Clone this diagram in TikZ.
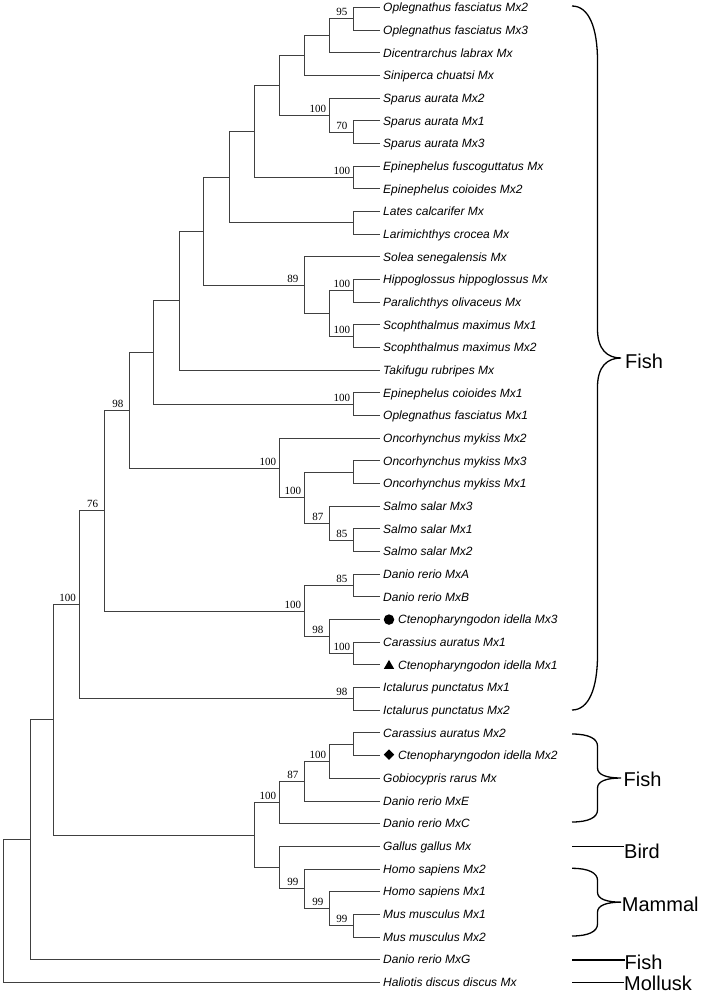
\documentclass[tikz,border=0pt]{standalone}
\usepackage{fontspec}
\setmainfont{Liberation Serif}
\newfontfamily\taxfont{Liberation Sans}
\usetikzlibrary{shapes.geometric}
\tikzset{
  branch/.style={line width=0.9pt,black!75},
  taxon/.style={anchor=west,inner sep=0pt,text height=8.6pt,text depth=0pt,font=\taxfont\itshape\fontsize{12}{14}\selectfont},
  boot/.style={anchor=base,inner sep=0pt,font=\fontsize{11}{13}\selectfont},
  brc/.style={line width=1.3pt},
  grp/.style={anchor=west,inner sep=0pt,text height=14.3pt,text depth=0pt,font=\taxfont\fontsize{20}{24}\selectfont},
  dotmk/.style={circle,fill,inner sep=0pt,minimum size=10.5pt},
  trimk/.style={regular polygon,regular polygon sides=3,fill,inner sep=0pt,minimum size=12pt},
  dimk/.style={diamond,fill,inner sep=0pt,minimum size=10.5pt}
}
% y of leaf row
\newcommand\rowy[1]{7.5+22.67*(#1-1)}
% right brace: top, bottom, end radius, tip radius
\newcommand\grpbrace[4]{%
  \draw[brc] (572,#1) .. controls (589,#1) and (597.5,{#1+0.4*#3}) .. (597.5,{#1+#3})
    -- (597.5,{(#1+#2)/2-#4}) .. controls (597.5,{(#1+#2)/2-0.3*#4}) and (607,{(#1+#2)/2}) .. (621,{(#1+#2)/2})
    .. controls (607,{(#1+#2)/2}) and (597.5,{(#1+#2)/2+0.3*#4}) .. (597.5,{(#1+#2)/2+#4})
    -- (597.5,{#2-#3}) .. controls (597.5,{#2-0.4*#3}) and (589,#2) .. (572,#2);}

\begin{document}
\begin{tikzpicture}[x=1pt,y=-1pt]
  \useasboundingbox (0,0) rectangle (704,995);

  % Leaf tips and taxon names
  \foreach \i in {1,...,44}
    \coordinate (t\i) at (380,{\rowy{\i}});
  \foreach \i/\t in {1/Oplegnathus fasciatus Mx2, 2/Oplegnathus fasciatus Mx3,
      3/Dicentrarchus labrax Mx, 4/Siniperca chuatsi Mx, 5/Sparus aurata Mx2,
      6/Sparus aurata Mx1, 7/Sparus aurata Mx3, 8/Epinephelus fuscoguttatus Mx,
      9/Epinephelus coioides Mx2, 10/Lates calcarifer Mx, 11/Larimichthys crocea Mx,
      12/Solea senegalensis Mx, 13/Hippoglossus hippoglossus Mx, 14/Paralichthys olivaceus Mx,
      15/Scophthalmus maximus Mx1, 16/Scophthalmus maximus Mx2, 17/Takifugu rubripes Mx,
      18/Epinephelus coioides Mx1, 19/Oplegnathus fasciatus Mx1, 20/Oncorhynchus mykiss Mx2,
      21/Oncorhynchus mykiss Mx3, 22/Oncorhynchus mykiss Mx1, 23/Salmo salar Mx3,
      24/Salmo salar Mx1, 25/Salmo salar Mx2, 26/Danio rerio MxA, 27/Danio rerio MxB,
      29/Carassius auratus Mx1, 31/Ictalurus punctatus Mx1, 32/Ictalurus punctatus Mx2,
      33/Carassius auratus Mx2, 35/Gobiocypris rarus Mx, 36/Danio rerio MxE,
      37/Danio rerio MxC, 38/Gallus gallus Mx, 39/Homo sapiens Mx2, 40/Homo sapiens Mx1,
      41/Mus musculus Mx1, 42/Mus musculus Mx2, 43/Danio rerio MxG,
      44/Haliotis discus discus Mx}
    \node[taxon] (l\i) at (383,{\rowy{\i}}) {\t};

  % Grass carp genes with their marks
  \node[dotmk] (m28) at (389,{\rowy{28}}) {};
  \node[trimk] (m30) at (389,{\rowy{30}+1}) {};
  \node[dimk]  (m34) at (389,{\rowy{34}-1}) {};
  \node[taxon] (l28) at (398,{\rowy{28}}) {Ctenopharyngodon idella Mx3};
  \node[taxon] (l30) at (398,{\rowy{30}}) {Ctenopharyngodon idella Mx1};
  \node[taxon] (l34) at (398,{\rowy{34}}) {Ctenopharyngodon idella Mx2};

  % Internal nodes, teleost Mx
  \coordinate (nOpl)   at (353.3,18.8);
  \coordinate (nDic)   at (329.3,35.8);
  \coordinate (nSin)   at (304.3,55.6);
  \coordinate (nSp13)  at (353.3,132.2);
  \coordinate (nSpa)   at (329.3,115.2);
  \coordinate (nPer)   at (279.3,85.4);
  \coordinate (nEpi)   at (353.3,177.5);
  \coordinate (nSpE)   at (254,131.5);
  \coordinate (nLat)   at (353.3,222.9);
  \coordinate (nLL)    at (229.3,177.2);
  \coordinate (nHip)   at (353.3,290.9);
  \coordinate (nSco)   at (353.3,336.2);
  \coordinate (nFlat)  at (329.3,313.5);
  \coordinate (nSol)   at (304.3,285.2);
  \coordinate (nPerc)  at (203.3,231.2);
  \coordinate (nTak)   at (179.3,300.7);
  \coordinate (nEc1)   at (353.3,404.2);
  \coordinate (nAca)   at (153.7,352.5);
  \coordinate (nOnc31) at (353.3,472.2);
  \coordinate (nSal12) at (353.3,540.2);
  \coordinate (nSal)   at (329.3,523.2);
  \coordinate (nOS)    at (304.3,497.7);
  \coordinate (nSalm)  at (279.3,468.0);
  \coordinate (nEut)   at (129.3,410.2);
  \coordinate (nDAB)   at (353.3,585.6);
  \coordinate (nCC)    at (353.3,653.6);
  \coordinate (nCte)   at (329.3,636.6);
  \coordinate (nCyp)   at (304.3,611.1);
  \coordinate (nTel)   at (104,510.7);
  \coordinate (nIct)   at (353.3,698.9);
  \coordinate (nFish)  at (79,604.8);
  % Internal nodes, cyprinid and tetrapod Mx
  \coordinate (nCa2)   at (353.3,744.3);
  \coordinate (nGob)   at (329.3,761.3);
  \coordinate (nDE)    at (304.3,781.1);
  \coordinate (nDC)    at (279.3,802.4);
  \coordinate (nMus)   at (353.3,925.6);
  \coordinate (nHs1)   at (329.3,908.6);
  \coordinate (nHs2)   at (304.3,888.8);
  \coordinate (nGal)   at (279.3,867.5);
  \coordinate (nMx2)   at (254,835.0);
  \coordinate (nVert)  at (53.7,719.9);
  \coordinate (nG)     at (30,839.8);
  \coordinate (nRoot)  at (3.3,911.0);

  % Branches
  \foreach \p/\c in {nOpl/t1,nOpl/t2,nDic/nOpl,nDic/t3,nSin/nDic,nSin/t4,
      nSp13/t6,nSp13/t7,nSpa/t5,nSpa/nSp13,nPer/nSin,nPer/nSpa,nEpi/t8,nEpi/t9,
      nSpE/nPer,nSpE/nEpi,nLat/t10,nLat/t11,nLL/nSpE,nLL/nLat,nHip/t13,nHip/t14,
      nSco/t15,nSco/t16,nFlat/nHip,nFlat/nSco,nSol/t12,nSol/nFlat,nPerc/nLL,nPerc/nSol,
      nTak/nPerc,nTak/t17,nEc1/t18,nEc1/t19,nAca/nTak,nAca/nEc1,nOnc31/t21,nOnc31/t22,
      nSal12/t24,nSal12/t25,nSal/t23,nSal/nSal12,nOS/nOnc31,nOS/nSal,nSalm/t20,nSalm/nOS,
      nEut/nAca,nEut/nSalm,nDAB/t26,nDAB/t27,nCC/t29,nCC/t30,nCte/t28,nCte/nCC,
      nCyp/nDAB,nCyp/nCte,nTel/nEut,nTel/nCyp,nIct/t31,nIct/t32,nFish/nTel,nFish/nIct,
      nCa2/t33,nCa2/t34,nGob/nCa2,nGob/t35,nDE/nGob,nDE/t36,nDC/nDE,nDC/t37,
      nMus/t41,nMus/t42,nHs1/t40,nHs1/nMus,nHs2/t39,nHs2/nHs1,nGal/t38,nGal/nHs2,
      nMx2/nDC,nMx2/nGal,nVert/nFish,nVert/nMx2,nG/nVert,nG/t43,nRoot/nG,nRoot/t44}
    \draw[branch] (\p) |- (\c);

  % Bootstrap values
  \foreach \n/\v in {nOpl/95,nSp13/70,nSpa/100,nEpi/100,nHip/100,nSco/100,nSol/89,
      nEc1/100,nSal12/85,nSal/87,nOS/100,nSalm/100,nEut/98,nDAB/85,nCC/100,nCte/98,
      nCyp/100,nTel/76,nIct/98,nFish/100,nGob/100,nDE/87,nDC/100,nMus/99,nHs1/99,nHs2/99}
    \node[boot] (b\n) at ([xshift=-11.5pt,yshift=3pt]\n) {\v};

  % Groups
  \grpbrace{6}{710}{55}{29}
  \grpbrace{734}{822}{12}{10}
  \grpbrace{868.3}{936}{12}{10}
  \node[grp] (gFishA) at (625,361) {Fish};
  \node[grp] (gFishB) at (623.5,779.5) {Fish};
  \node[grp] (gBird) at (624,851.7) {Bird};
  \node[grp] (gMam) at (621.7,904) {Mammal};
  \node[grp] (gFishC) at (624.5,962.5) {Fish};
  \node[grp] (gMoll) at (624,983.3) {Mollusk};
  \draw[brc] (572,846.7) -- (gBird.west |- 0,846.7);
  \draw[brc] (572,960) -- (gFishC.west |- 0,960);
  \draw[brc] (572,982.3) -- (gMoll.west |- 0,982.3);
\end{tikzpicture}
\end{document}
